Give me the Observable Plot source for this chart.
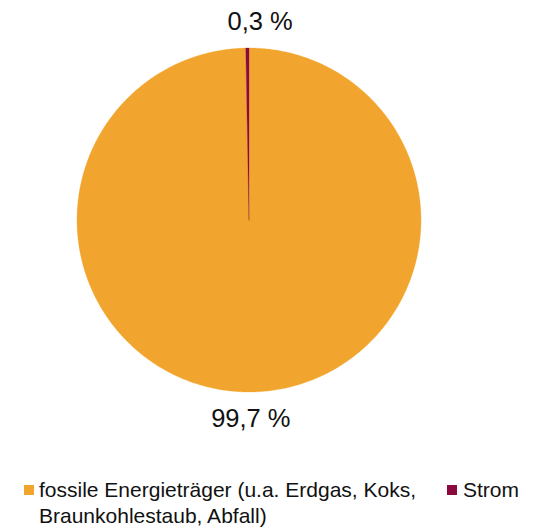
<!DOCTYPE html>
<html><head><meta charset="utf-8">
<script src="https://cdn.jsdelivr.net/npm/d3@7"></script>
<script src="https://cdn.jsdelivr.net/npm/@observablehq/plot@0.6"></script>
<style>
body{margin:0;background:#fff;font-family:"Liberation Sans",Arial,sans-serif;}
#wrap{position:relative;width:537px;height:528px;overflow:hidden;}
#legend{position:absolute;left:24px;top:477px;width:513px;font-size:21px;color:#111;line-height:26px;}
.item{position:absolute;top:0;white-space:normal;}
.sw{position:absolute;top:8px;width:10px;height:10px;}
</style></head>
<body><div id="wrap"><div id="chart"></div><div id="legend"></div></div>
<script>
const categories = ["fossile Energieträger (u.a. Erdgas, Koks, Braunkohlestaub, Abfall)", "Strom"];
const shares = [99.7, 0.3];
const labels = ["99,7 %", "0,3 %"];
const colors = ["#F2A52E", "#8A0A3E"];

// slices run clockwise from 12 o'clock; Strom ends at the top
const total = d3.sum(shares);
let acc = 0;
const slices = categories.map((c, i) => {
  const a0 = acc / total * 2 * Math.PI;
  acc += shares[i];
  const a1 = acc / total * 2 * Math.PI;
  return {cat: c, a0, a1, label: labels[i]};
});
const pts = [];
for (const s of slices) {
  const b0 = s.a0, b1 = s.a1;
  const n = Math.max(4, Math.ceil((b1 - b0) / (2*Math.PI) * 720));
  pts.push({cat: s.cat, x: 0, y: 0});
  for (let k = 0; k <= n; k++) {
    const t = b0 + (b1 - b0) * k / n;
    pts.push({cat: s.cat, x: Math.sin(t), y: Math.cos(t)});
  }
  pts.push({cat: s.cat, x: 0, y: 0});
  s.mid = (b0 + b1) / 2;
}
const labelData = slices.map(s => ({
  label: s.label,
  top: Math.cos(s.mid) > 0,
  x: 1.13 * Math.sin(s.mid),
  y: 1.155 * Math.cos(s.mid)
}));

const plot = Plot.plot({
  width: 537, height: 470,
  marginLeft: 76.5, marginRight: 116.5, marginTop: 47.5, marginBottom: 78.5,
  x: {domain: [-1, 1], axis: null},
  y: {domain: [-1, 1], axis: null},
  color: {domain: categories, range: colors},
  style: {fontFamily: "Liberation Sans, Arial, sans-serif", background: "#fff"},
  marks: [
    Plot.line(pts, {x: "x", y: "y", z: "cat", fill: "cat", stroke: "cat", strokeWidth: 0.3, curve: "linear"}),
    Plot.text(labelData.filter(d => d.top), {x: "x", y: "y", text: "label", fontSize: 25.5, fill: "#111", dx: 13}),
    Plot.text(labelData.filter(d => !d.top), {x: "x", y: "y", text: "label", fontSize: 25.5, fill: "#111", dx: 0}),
  ]
});
document.getElementById("chart").appendChild(plot);

const legend = document.getElementById("legend");
const pos = [0, 423];
categories.forEach((c, i) => {
  const it = document.createElement("div");
  it.className = "item";
  it.style.left = pos[i] + "px";
  it.style.width = i === 0 ? "410px" : "90px";
  it.innerHTML = `<span class="sw" style="left:0;background:${plot.scale("color").apply(c)}"></span><div style="margin-left:${i===0?15:16}px">${c}</div>`;
  legend.appendChild(it);
});
</script></body></html>
